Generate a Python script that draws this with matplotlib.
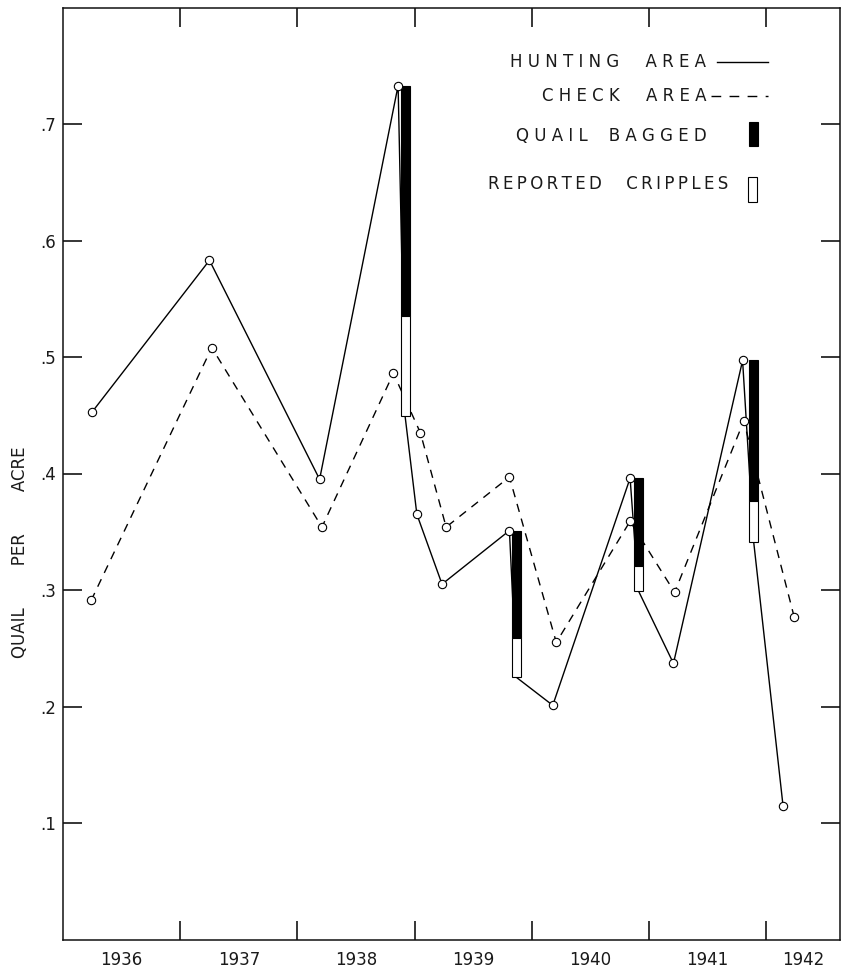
import matplotlib
matplotlib.use("Agg")
import matplotlib.pyplot as plt
from matplotlib.patches import Rectangle
from matplotlib.lines import Line2D

# ---- data ----
hunt_x = [1936.25, 1937.25, 1938.19, 1938.86, 1939.02, 1939.235, 1939.81, 1940.18, 1940.84, 1941.21, 1941.80, 1942.145]
hunt_y = [0.453, 0.583, 0.395, 0.733, 0.365, 0.305, 0.351, 0.201, 0.396, 0.237, 0.497, 0.115]
check_x = [1936.24, 1937.27, 1938.21, 1938.82, 1939.05, 1939.27, 1939.81, 1940.21, 1940.84, 1941.22, 1941.81, 1942.24]
check_y = [0.291, 0.508, 0.354, 0.486, 0.435, 0.354, 0.397, 0.255, 0.359, 0.298, 0.445, 0.277]

season_x = [1938.92, 1939.87, 1940.91, 1941.895]
season_idx = [3, 6, 8, 10]          # hunting point just before each season
bagged = [0.198, 0.092, 0.075, 0.121]
cripples = [0.086, 0.034, 0.0215, 0.035]

years = ['1936', '1937', '1938', '1939', '1940', '1941', '1942']
ytick_vals = [0.1, 0.2, 0.3, 0.4, 0.5, 0.6, 0.7]
ytick_labels = ['.1', '.2', '.3', '.4', '.5', '.6', '.7']

legend_labels = ['HUNTING AREA', 'CHECK AREA', 'QUAIL BAGGED', 'REPORTED CRIPPLES']


def spaced(text, gap=' ', word_gap='     '):
    return word_gap.join(gap.join(w) for w in text.split(' '))


plt.rcParams['font.family'] = ['DejaVu Sans']
plt.rcParams['text.color'] = '#1a1a1a'

# ---- figure ----
W, H = 843, 968
fig = plt.figure(figsize=(W / 100, H / 100), dpi=100)
ax = fig.add_axes([63 / W, 1 - 939.5 / H, (840 - 63) / W, (939.5 - 7.5) / H])

X0, X1 = 1936.0, 1936.0 + (840 - 62.8) / 117.2
ax.set_xlim(X0, X1)
ax.set_ylim(0, 0.8)

# hunting line path: through the points, dropping down each bar after a season
path_x, path_y = [], []
s = 0
for i, (x, y) in enumerate(zip(hunt_x, hunt_y)):
    path_x.append(x)
    path_y.append(y)
    if s < len(season_idx) and season_idx[s] == i:
        path_x.append(season_x[s])
        path_y.append(y - bagged[s] - cripples[s])
        s += 1

ax.plot(path_x, path_y, color='black', lw=1.0, zorder=2)
ax.plot(check_x, check_y, color='black', lw=1.0, dashes=(6, 5), zorder=2)

bw = 0.077
for k, i in enumerate(season_idx):
    top = hunt_y[i]
    ax.bar(season_x[k], bagged[k], bottom=top - bagged[k], width=bw,
           color='black', edgecolor='black', lw=0.8, zorder=4)
    ax.bar(season_x[k], cripples[k], bottom=top - bagged[k] - cripples[k], width=bw,
           color='white', edgecolor='black', lw=0.8, zorder=4)

ax.plot(hunt_x, hunt_y, ls='none', marker='o', ms=6, mfc='white', mec='black', mew=0.8, zorder=5)
ax.plot(check_x, check_y, ls='none', marker='o', ms=6, mfc='white', mec='black', mew=0.8, zorder=5)

# ---- axes styling ----
for sp in ax.spines.values():
    sp.set_linewidth(1.1)
    sp.set_color('#111111')

ax.set_yticks(ytick_vals)
ax.set_yticklabels(ytick_labels, fontsize=12)
ax.tick_params(axis='y', direction='in', length=14, width=1.1, pad=5, right=True, labelright=False,
               labelcolor='#1a1a1a')

bounds = [1937, 1938, 1939, 1940, 1941, 1942]
label_pos = [1936.5, 1937.5, 1938.5, 1939.5, 1940.5, 1941.5, (1942 + X1) / 2]
ax.set_xticks(label_pos)
ax.set_xticklabels(years, fontsize=12)
ax.set_xticks(bounds, minor=True)
ax.tick_params(axis='x', which='major', length=0, pad=8, labelcolor='#1a1a1a')
ax.tick_params(axis='x', which='minor', direction='in', length=14, width=1.1, top=True)

fig.text(20 / W, 1 - 552 / H, 'QUAIL        PER        ACRE', rotation=90,
         ha='center', va='center', fontsize=12)


# ---- legend (drawn by hand, as in the original) ----
def fx(px):
    return px / W


def fy(py):
    return 1 - py / H


fig.text(fx(706), fy(62), spaced(legend_labels[0]), ha='right', va='center', fontsize=12)
fig.add_artist(Line2D([fx(717), fx(768)], [fy(62), fy(62)], color='black', lw=1.0))
fig.text(fx(706), fy(96), spaced(legend_labels[1]), ha='right', va='center', fontsize=12)
fig.add_artist(Line2D([fx(711), fx(768)], [fy(96), fy(96)], color='black', lw=1.0, dashes=(7, 6)))
fig.text(fx(707), fy(136), spaced(legend_labels[2], word_gap='    '), ha='right', va='center', fontsize=12)
fig.add_artist(Rectangle((fx(749), fy(146)), fx(9), 24 / H, facecolor='black', edgecolor='black', lw=0.8))
fig.text(fx(728), fy(184), spaced(legend_labels[3], gap='\u2009', word_gap='\u2009    '),
         ha='right', va='center', fontsize=12)
fig.add_artist(Rectangle((fx(748), fy(202)), fx(9), 25 / H, facecolor='white', edgecolor='black', lw=0.8))

fig.savefig('out.png', dpi=100, facecolor='white')
